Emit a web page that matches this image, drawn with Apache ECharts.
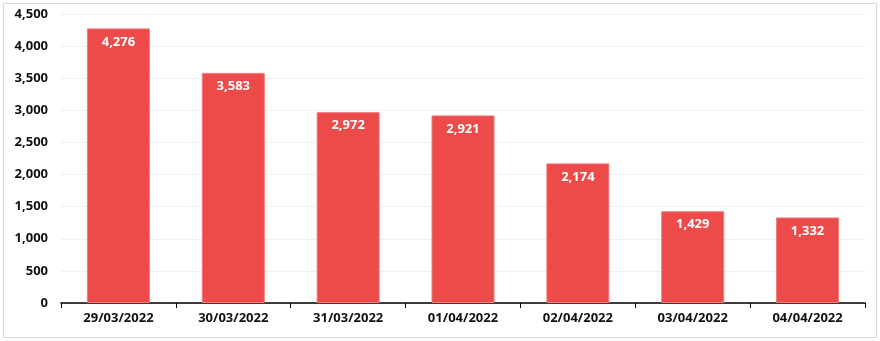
<!DOCTYPE html>
<html><head><meta charset="utf-8">
<script src="https://cdn.jsdelivr.net/npm/echarts@6/dist/echarts.min.js"></script>
<style>
html,body{margin:0;padding:0;background:#fff;}
#frame{position:absolute;left:3px;top:3px;width:872px;height:333px;border:1px solid #d9d9d9;}
#chart{position:absolute;left:0;top:0;width:880px;height:341px;}
</style></head>
<body><div id="frame"></div><div id="chart"></div>
<script>
const categories = ['29/03/2022','30/03/2022','31/03/2022','01/04/2022','02/04/2022','03/04/2022','04/04/2022'];
const values = [4276, 3583, 2972, 2921, 2174, 1429, 1332];
const chart = echarts.init(document.getElementById('chart'));
const fmt = v => v.toLocaleString('en-US');
chart.setOption({
  animation:false,
  grid:{left:61,right:15,top:14,bottom:38},
  xAxis:{type:'category',data:categories,
    axisLine:{lineStyle:{color:'#000',width:1.5}},
    axisTick:{show:true,length:5,lineStyle:{color:'#000'}},
    axisLabel:{color:'#111',fontFamily:'Noto Sans',fontWeight:'bold',fontSize:13,margin:9}},
  yAxis:{type:'value',min:0,max:4500,interval:500,
    axisLine:{show:false},axisTick:{show:false},
    splitLine:{lineStyle:{color:'#efefef'}},
    axisLabel:{color:'#111',fontFamily:'Noto Sans',fontWeight:'bold',fontSize:13,margin:13,formatter:fmt}},
  series:[{type:'bar',data:values,barWidth:63,
    itemStyle:{color:'#ED4A4A',borderColor:'#F27B7B',borderWidth:1},
    label:{show:true,position:'insideTop',distance:7,color:'#fff',fontFamily:'Noto Sans',fontWeight:'bold',fontSize:13,formatter:p=>fmt(p.value)}}]
});
</script></body></html>
